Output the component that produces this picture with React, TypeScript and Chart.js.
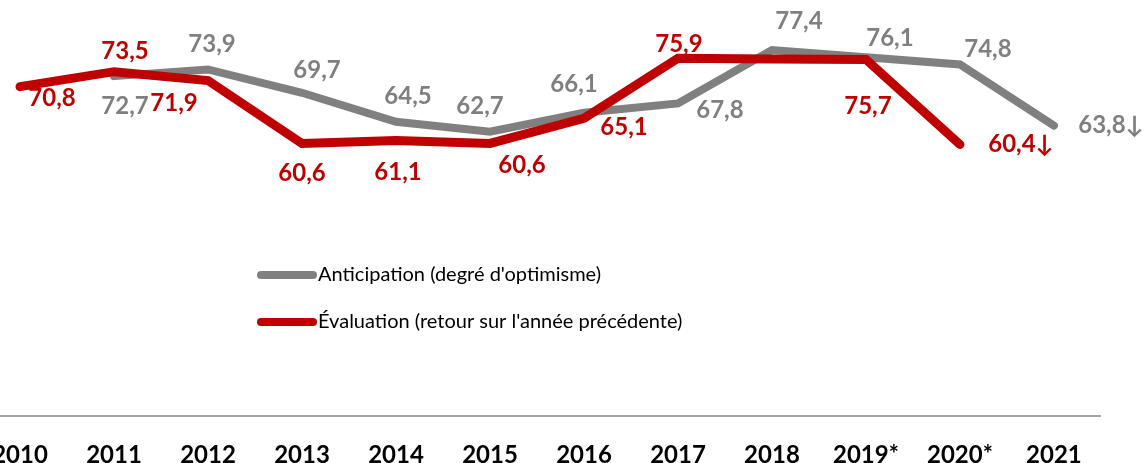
import React, { useEffect, useRef } from "react";
import { Chart, registerables } from "chart.js";

Chart.register(...registerables);

const years = ["2010", "2011", "2012", "2013", "2014", "2015", "2016", "2017", "2018", "2019*", "2020*", "2021"];
const anticipation: (number | null)[] = [null, 72.7, 73.9, 69.7, 64.5, 62.7, 66.1, 67.8, 77.4, 76.1, 74.8, 63.8];
const evaluation: (number | null)[] = [70.8, 73.5, 71.9, 60.6, 61.1, 60.6, 65.1, 75.9, 75.8, 75.7, 60.4, null];
const anticipationShown: boolean[] = [false, true, true, true, true, true, true, true, true, true, true, true];
const evaluationShown: boolean[] = [true, true, true, true, true, true, true, true, false, true, true, false];
const anticipationMark: string[] = ["", "", "", "", "", "", "", "", "", "", "", "↓"];
const evaluationMark: string[] = ["", "", "", "", "", "", "", "", "", "", "↓", ""];
const seriesNames = ["Anticipation (degré d'optimisme)", "Évaluation (retour sur l'année précédente)"];

// label offsets (px) from each point, mimicking manual placement
const greyOffsets: [number, number][] = [[0, 0], [11, 30], [4, -25], [15, -23], [12, -25], [-10, -25], [-10, -29], [42, 7], [27, -29], [24, -19], [28, -15], [57, 0]];
const redOffsets: [number, number][] = [[32, 12], [11, -20], [-34, 23], [0, 30], [2, 32], [32, 22], [40, 9], [1, -14], [0, 0], [2, 47], [61, 0], [0, 0]];

const GREY = "#808080";
const RED = "#c00000";
const FONT = "Lato, 'DejaVu Sans', sans-serif";

const fmt = (v: number) => v.toFixed(1).replace(".", ",");

const toPoints = (arr: (number | null)[]) =>
  arr.map((v, i) => (v == null ? null : { x: i, y: v })).filter((p) => p !== null) as { x: number; y: number }[];

const labelsPlugin = {
  id: "valueLabels",
  afterDatasetsDraw(chart: any) {
    const ctx = chart.ctx as CanvasRenderingContext2D;
    const xs = chart.scales.x;
    const ys = chart.scales.y;
    ctx.save();
    ctx.font = `bold 24px ${FONT}`;
    ctx.textAlign = "center";
    ctx.textBaseline = "middle";
    const drawSeries = (vals: (number | null)[], shown: boolean[], marks: string[], offs: [number, number][], color: string) => {
      ctx.fillStyle = color;
      vals.forEach((v, i) => {
        if (v == null || !shown[i]) return;
        const px = xs.getPixelForValue(i) + offs[i][0];
        const py = ys.getPixelForValue(v) + offs[i][1];
        ctx.fillText(fmt(v) + marks[i], px, py);
      });
    };
    drawSeries(anticipation, anticipationShown, anticipationMark, greyOffsets, GREY);
    drawSeries(evaluation, evaluationShown, evaluationMark, redOffsets, RED);

    // legend inside the plot
    const items = [
      { name: seriesNames[0], color: GREY, y: 275 },
      { name: seriesNames[1], color: RED, y: 322 },
    ];
    ctx.font = `20px ${FONT}`;
    ctx.textAlign = "left";
    items.forEach((it) => {
      ctx.strokeStyle = it.color;
      ctx.lineWidth = 8;
      ctx.lineCap = "round";
      ctx.beginPath();
      ctx.moveTo(261, it.y);
      ctx.lineTo(313, it.y);
      ctx.stroke();
      ctx.fillStyle = "#000000";
      ctx.fillText(it.name, 318, it.y);
    });
    ctx.restore();
  },
};

export default function App() {
  const canvasRef = useRef<HTMLCanvasElement | null>(null);

  useEffect(() => {
    if (!canvasRef.current) return;
    const chart = new Chart(canvasRef.current, {
      type: "line",
      data: {
        datasets: [
          {
            label: seriesNames[1],
            data: toPoints(evaluation),
            borderColor: RED,
            backgroundColor: RED,
            borderWidth: 9,
            borderCapStyle: "round",
            borderJoinStyle: "miter",
            pointRadius: 0,
            tension: 0,
            order: 0,
          },
          {
            label: seriesNames[0],
            data: toPoints(anticipation),
            borderColor: GREY,
            backgroundColor: GREY,
            borderWidth: 8,
            borderCapStyle: "round",
            borderJoinStyle: "miter",
            pointRadius: 0,
            tension: 0,
            order: 1,
          },
        ],
      },
      options: {
        responsive: false,
        animation: false,
        layout: { padding: { left: 0, right: 46, top: 0, bottom: 0 } },
        plugins: {
          legend: { display: false },
          tooltip: { enabled: false },
        },
        scales: {
          x: {
            type: "linear",
            min: -0.213,
            max: 11.49,
            grid: { display: false },
            border: { display: true, color: "#a6a6a6", width: 2 },
            afterBuildTicks: (scale: any) => {
              scale.ticks = years.map((_, i) => ({ value: i }));
            },
            afterFit: (scale: any) => {
              scale.height = 47;
              scale.paddingLeft = 0;
              scale.paddingRight = 0;
            },
            ticks: {
              autoSkip: false,
              maxRotation: 0,
              padding: 17,
              color: "#000000",
              font: { family: FONT, size: 24, weight: "bold" },
              callback: (v: any) => years[Number(v)] ?? "",
            },
          },
          y: {
            display: false,
            min: 11.57,
            max: 86.39,
          },
        },
      },
      plugins: [labelsPlugin],
    });
    return () => chart.destroy();
  }, []);

  return (
    <div style={{ position: "fixed", left: 0, top: 0, width: 1146, height: 463, background: "#ffffff" }}>
      <canvas ref={canvasRef} width={1146} height={463} />
    </div>
  );
}
